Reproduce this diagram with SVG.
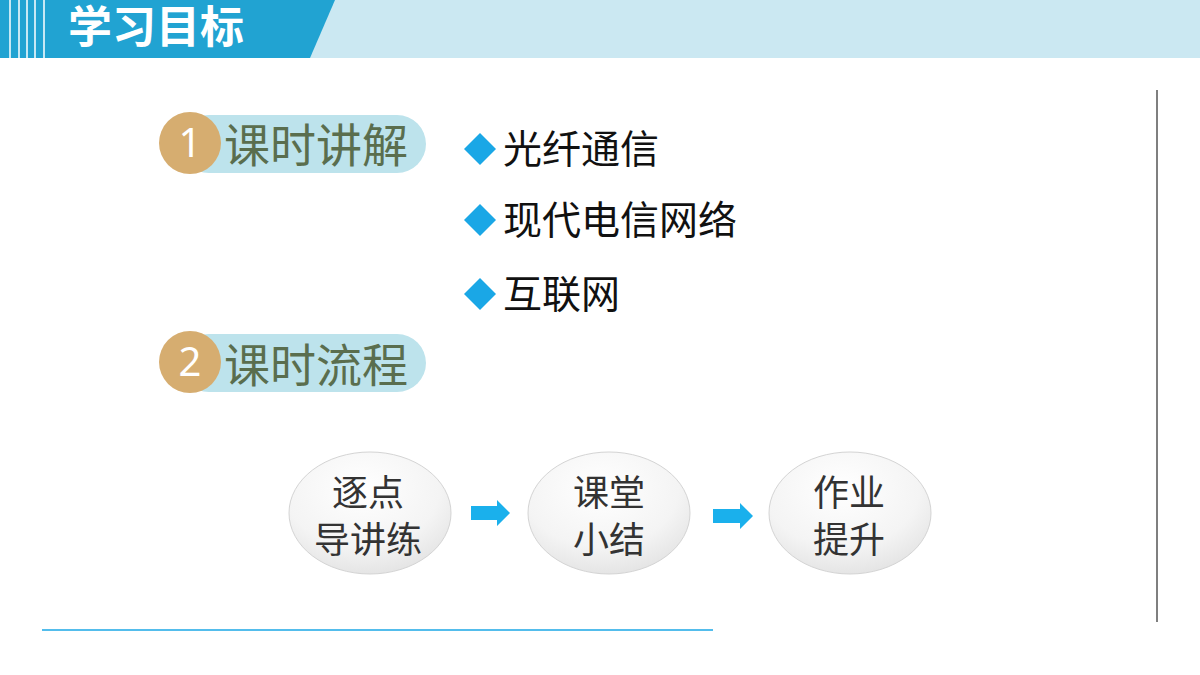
<svg xmlns="http://www.w3.org/2000/svg" width="1200" height="675" viewBox="0 0 1200 675">
<style>
.cjk{font-family:"Noto Sans CJK SC","Noto Sans",sans-serif}
.badge{font-family:"Noto Sans","Noto Sans CJK SC",sans-serif;fill:#fff;font-size:40px}
.lbl{fill:#5a6e4e;font-size:46px}
.item{fill:#111;font-size:39px}
.node{fill:#333;font-size:36px}
.dia{fill:#1aa7e6}
.arr{fill:#1ab0ec}
</style>
<defs>
<radialGradient id="g" cx="0.45" cy="0.3" r="0.8">
<stop offset="0" stop-color="#ffffff"/><stop offset="0.6" stop-color="#f4f4f4"/><stop offset="1" stop-color="#dedede"/>
</radialGradient>
</defs>
<rect width="1200" height="675" fill="#fff"/>
<g id="header">
<rect x="0" y="0" width="1200" height="58" fill="#cbe8f2"/>
<polygon points="0,0 335,0 310,58 0,58" fill="#21a3d2"/>
<g stroke="#fff" stroke-width="1.5">
<line x1="10" y1="0" x2="10" y2="58"/><line x1="19" y1="0" x2="19" y2="58"/><line x1="27" y1="0" x2="27" y2="58"/><line x1="35" y1="0" x2="35" y2="58"/><line x1="44" y1="0" x2="44" y2="58"/>
</g>
<text x="68" y="43" class="cjk" font-size="44" font-weight="bold" fill="#fff">学习目标</text>
</g>
<line x1="1157" y1="90" x2="1157" y2="622" stroke="#555" stroke-width="1.5"/>
<line x1="42" y1="630" x2="713" y2="630" stroke="#1aa7e6" stroke-width="1.5"/>
<g id="sec1">
<rect x="180" y="115" width="246" height="58" rx="29" fill="#bde3ec"/>
<circle cx="190" cy="143" r="31" fill="#d6ad70"/>
<text x="190" y="157" text-anchor="middle" class="badge">1</text>
<text x="224" y="162" class="cjk lbl">课时讲解</text>
</g>
<g id="sec2">
<rect x="180" y="334" width="246" height="58" rx="29" fill="#bde3ec"/>
<circle cx="190" cy="362" r="31" fill="#d6ad70"/>
<text x="190" y="376" text-anchor="middle" class="badge">2</text>
<text x="224" y="382" class="cjk lbl">课时流程</text>
</g>
<g id="items">
<polygon class="dia" points="480,133 496,149 480,165 464,149"/>
<text x="503" y="163" class="cjk item">光纤通信</text>
<polygon class="dia" points="480,204 496,220 480,236 464,220"/>
<text x="503" y="234" class="cjk item">现代电信网络</text>
<polygon class="dia" points="480,278 496,294 480,310 464,294"/>
<text x="503" y="308" class="cjk item">互联网</text>
</g>
<g id="n1">
<ellipse cx="370" cy="513" rx="81" ry="61" fill="url(#g)" stroke="#d4d4d4"/>
<text x="368" y="506" text-anchor="middle" class="cjk node">逐点</text>
<text x="368" y="553" text-anchor="middle" class="cjk node">导讲练</text>
</g>
<g id="n2">
<ellipse cx="609" cy="513" rx="81" ry="61" fill="url(#g)" stroke="#d4d4d4"/>
<text x="609" y="506" text-anchor="middle" class="cjk node">课堂</text>
<text x="609" y="553" text-anchor="middle" class="cjk node">小结</text>
</g>
<g id="n3">
<ellipse cx="850" cy="513" rx="81" ry="61" fill="url(#g)" stroke="#d4d4d4"/>
<text x="849" y="506" text-anchor="middle" class="cjk node">作业</text>
<text x="849" y="553" text-anchor="middle" class="cjk node">提升</text>
</g>
<g id="connectors">
<polygon class="arr" points="471,506 497,506 497,500 510,513 497,526 497,520 471,520"/>
<polygon class="arr" points="713,509 740,509 740,503 753,516 740,529 740,523 713,523"/>
</g>
</svg>
